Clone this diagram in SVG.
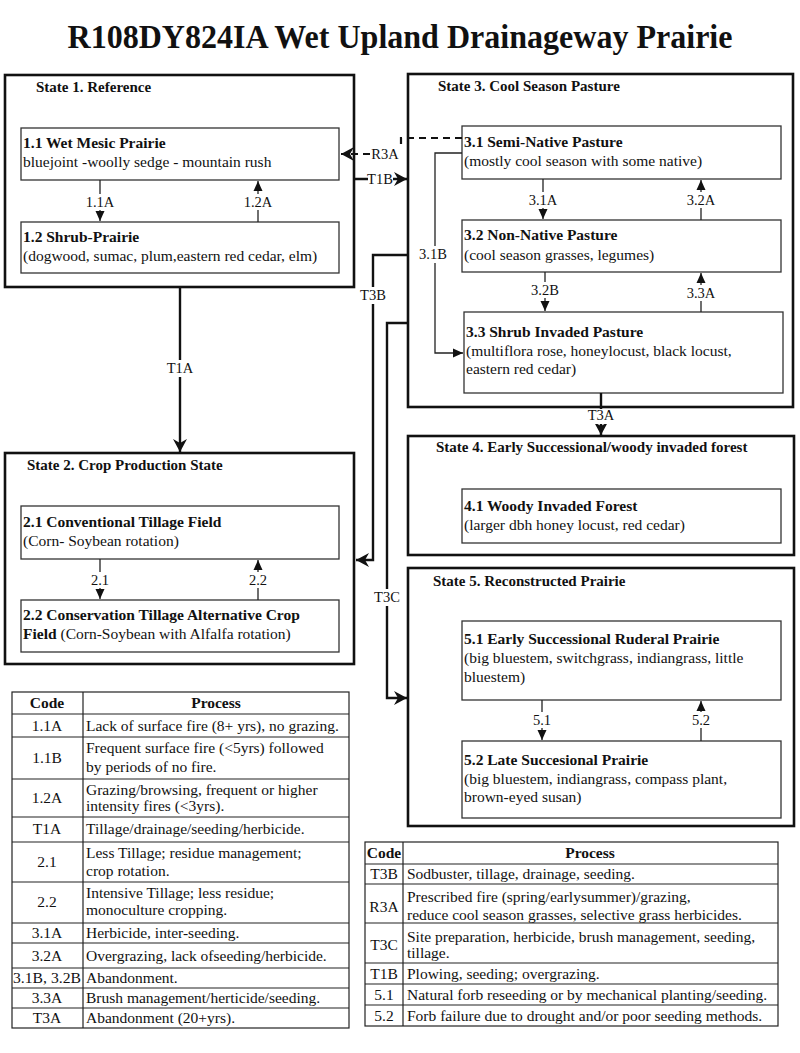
<svg xmlns="http://www.w3.org/2000/svg" width="800" height="1053" viewBox="0 0 800 1053">
<style>
text{font-family:"Liberation Serif","Times New Roman",serif;fill:#111;font-size:15.5px}
.title{font-size:34px;font-weight:bold}
.st{font-size:15px;font-weight:bold}
.b{font-weight:bold}
.c{text-anchor:middle}
.lbl{font-size:14.5px;text-anchor:middle}
.bg{fill:#fff}
.state{fill:none;stroke:#111;stroke-width:2.6}
.box{fill:#fff;stroke:#333;stroke-width:1.3}
.thin{fill:none;stroke:#222;stroke-width:1.3}
.thick{fill:none;stroke:#111;stroke-width:2.4}
.dash{fill:none;stroke:#111;stroke-width:2.2;stroke-dasharray:7 5}
.tb{fill:none;stroke:#222;stroke-width:1.2}
</style>
<defs>
<marker id="sm" markerUnits="userSpaceOnUse" markerWidth="10" markerHeight="10" viewBox="0 0 10 10" refX="10" refY="5" orient="auto">
<path d="M0,0.5 L10,5 L0,9.5 Z" fill="#111"/>
</marker>
<marker id="big" markerUnits="userSpaceOnUse" markerWidth="14" markerHeight="14" viewBox="0 0 14 14" refX="13" refY="7" orient="auto">
<path d="M0,0 L13,7 L0,14 L4,7 Z" fill="#111"/>
</marker>
</defs>
<rect width="800" height="1053" fill="#fff"/>
<text class="title c" x="400" y="48" textLength="665" lengthAdjust="spacingAndGlyphs">R108DY824IA Wet Upland Drainageway Prairie</text>

<g id="state1">
<rect class="state" x="5" y="75" width="349" height="212"/>
<text class="st" x="36" y="92">State 1. Reference</text>
</g>
<g id="n11">
<rect class="box" x="21" y="128" width="318" height="52"/>
<text class="b" x="23" y="148">1.1 Wet Mesic Prairie</text>
<text x="23" y="167">bluejoint -woolly sedge - mountain rush</text>
</g>
<g id="n12">
<rect class="box" x="21" y="222" width="318" height="51"/>
<text class="b" x="23" y="242">1.2 Shrub-Prairie</text>
<text x="23" y="261">(dogwood, sumac, plum,eastern red cedar, elm)</text>
</g>

<g id="state3">
<rect class="state" x="408" y="74" width="385" height="333"/>
<text class="st" x="438" y="91">State 3. Cool Season Pasture</text>
</g>
<g id="n31">
<rect class="box" x="462" y="126" width="319" height="53"/>
<text class="b" x="464" y="147">3.1 Semi-Native Pasture</text>
<text x="464" y="166">(mostly cool season with some native)</text>
</g>
<g id="n32">
<rect class="box" x="462" y="220" width="319" height="52"/>
<text class="b" x="464" y="240">3.2 Non-Native Pasture</text>
<text x="464" y="260">(cool season grasses, legumes)</text>
</g>
<g id="n33">
<rect class="box" x="464" y="312" width="319" height="81"/>
<text class="b" x="466" y="337">3.3 Shrub Invaded Pasture</text>
<text x="466" y="356">(multiflora rose, honeylocust, black locust,</text>
<text x="466" y="374">eastern red cedar)</text>
</g>

<g id="state2">
<rect class="state" x="5" y="453" width="349" height="211"/>
<text class="st" x="27" y="470">State 2. Crop Production State</text>
</g>
<g id="n21">
<rect class="box" x="21" y="506" width="318" height="53"/>
<text class="b" x="23" y="527">2.1 Conventional Tillage Field</text>
<text x="23" y="546">(Corn- Soybean rotation)</text>
</g>
<g id="n22">
<rect class="box" x="21" y="600" width="318" height="52"/>
<text class="b" x="23" y="620">2.2 Conservation Tillage Alternative Crop</text>
<text x="23" y="639"><tspan class="b">Field</tspan> (Corn-Soybean with Alfalfa rotation)</text>
</g>

<g id="state4">
<rect class="state" x="408" y="436" width="386" height="119"/>
<text class="st" x="436" y="452">State 4. Early Successional/woody invaded forest</text>
</g>
<g id="n41">
<rect class="box" x="462" y="489" width="319" height="54"/>
<text class="b" x="464" y="511">4.1 Woody Invaded Forest</text>
<text x="464" y="530">(larger dbh honey locust, red cedar)</text>
</g>

<g id="state5">
<rect class="state" x="408" y="568" width="386" height="258"/>
<text class="st" x="433" y="586">State 5. Reconstructed Prairie</text>
</g>
<g id="n51">
<rect class="box" x="462" y="621" width="319" height="79"/>
<text class="b" x="464" y="644">5.1 Early Successional Ruderal Prairie</text>
<text x="464" y="663">(big bluestem, switchgrass, indiangrass, little</text>
<text x="464" y="682">bluestem)</text>
</g>
<g id="n52">
<rect class="box" x="462" y="741" width="319" height="77"/>
<text class="b" x="464" y="765">5.2 Late Succesional Prairie</text>
<text x="464" y="784">(big bluestem, indiangrass, compass plant,</text>
<text x="464" y="802">brown-eyed susan)</text>
</g>

<g id="connectors">
<line class="thick" x1="180" y1="287" x2="180" y2="452" marker-end="url(#big)"/>
<rect class="bg" x="165" y="360" width="30" height="17"/><text class="lbl" x="180" y="373">T1A</text>
<line class="thick" x1="354" y1="179" x2="407" y2="179" marker-end="url(#big)"/>
<rect class="bg" x="368" y="171" width="25" height="16"/><text class="lbl" x="380" y="184">T1B</text>
<path class="dash" d="M462,138 H401 V148" />
<path class="dash" d="M370,154 H341" marker-end="url(#big)"/>
<text class="lbl" x="385" y="159">R3A</text>
<path class="thick" d="M408,255 H373 V560 H356" marker-end="url(#big)"/>
<rect class="bg" x="359" y="287" width="28" height="17"/><text class="lbl" x="373" y="300">T3B</text>
<path class="thick" d="M408,323 H387 V698 H407" marker-end="url(#big)"/>
<rect class="bg" x="373" y="589" width="28" height="17"/><text class="lbl" x="387" y="602">T3C</text>
<line class="thick" x1="601" y1="393" x2="601" y2="435" marker-end="url(#big)"/>
<rect class="bg" x="587" y="409" width="28" height="15"/><text class="lbl" x="601" y="420">T3A</text>
<path class="thin" d="M462,153 H435 V353 H463" marker-end="url(#sm)"/>
<rect class="bg" x="418" y="246" width="30" height="17"/><text class="lbl" x="433" y="259">3.1B</text>
<line class="thin" x1="100" y1="180" x2="100" y2="221" marker-end="url(#sm)"/>
<rect class="bg" x="85" y="194" width="30" height="16"/><text class="lbl" x="100" y="207">1.1A</text>
<line class="thin" x1="258" y1="222" x2="258" y2="181" marker-end="url(#sm)"/>
<rect class="bg" x="243" y="194" width="30" height="16"/><text class="lbl" x="258" y="207">1.2A</text>
<line class="thin" x1="100" y1="559" x2="100" y2="599" marker-end="url(#sm)"/>
<rect class="bg" x="89" y="572" width="22" height="16"/><text class="lbl" x="100" y="585">2.1</text>
<line class="thin" x1="258" y1="600" x2="258" y2="560" marker-end="url(#sm)"/>
<rect class="bg" x="247" y="572" width="22" height="16"/><text class="lbl" x="258" y="585">2.2</text>
<line class="thin" x1="543" y1="179" x2="543" y2="219" marker-end="url(#sm)"/>
<rect class="bg" x="528" y="192" width="30" height="16"/><text class="lbl" x="543" y="205">3.1A</text>
<line class="thin" x1="701" y1="220" x2="701" y2="180" marker-end="url(#sm)"/>
<rect class="bg" x="686" y="192" width="30" height="16"/><text class="lbl" x="701" y="205">3.2A</text>
<line class="thin" x1="545" y1="272" x2="545" y2="311" marker-end="url(#sm)"/>
<rect class="bg" x="530" y="282" width="30" height="16"/><text class="lbl" x="545" y="295">3.2B</text>
<line class="thin" x1="701" y1="312" x2="701" y2="273" marker-end="url(#sm)"/>
<rect class="bg" x="686" y="285" width="30" height="16"/><text class="lbl" x="701" y="298">3.3A</text>
<line class="thin" x1="542" y1="700" x2="542" y2="740" marker-end="url(#sm)"/>
<rect class="bg" x="531" y="712" width="22" height="16"/><text class="lbl" x="542" y="725">5.1</text>
<line class="thin" x1="701" y1="741" x2="701" y2="701" marker-end="url(#sm)"/>
<rect class="bg" x="690" y="712" width="22" height="16"/><text class="lbl" x="701" y="725">5.2</text>
</g>

<g id="table1">
<rect class="tb" x="12" y="692" width="337" height="336"/>
<line class="tb" x1="83" y1="692" x2="83" y2="1028"/>
<path class="tb" d="M12,714H349M12,737H349M12,779H349M12,817H349M12,842H349M12,882H349M12,923H349M12,943H349M12,968H349M12,988H349M12,1008H349"/>
<text class="b c" x="47" y="708">Code</text>
<text class="b c" x="216" y="708">Process</text>
<text class="c" x="47" y="731">1.1A</text><text x="86" y="731">Lack of surface fire (8+ yrs), no grazing.</text>
<text class="c" x="47" y="763">1.1B</text><text x="86" y="753">Frequent surface fire (&lt;5yrs) followed</text><text x="86" y="772">by periods of no fire.</text>
<text class="c" x="47" y="803">1.2A</text><text x="86" y="795">Grazing/browsing, frequent or higher</text><text x="86" y="811">intensity fires (&lt;3yrs).</text>
<text class="c" x="47" y="834">T1A</text><text x="86" y="834">Tillage/drainage/seeding/herbicide.</text>
<text class="c" x="47" y="867">2.1</text><text x="86" y="858">Less Tillage; residue management;</text><text x="86" y="876">crop rotation.</text>
<text class="c" x="47" y="907">2.2</text><text x="86" y="898">Intensive Tillage; less residue;</text><text x="86" y="915">monoculture cropping.</text>
<text class="c" x="47" y="938">3.1A</text><text x="86" y="938">Herbicide, inter-seeding.</text>
<text class="c" x="47" y="961">3.2A</text><text x="86" y="961">Overgrazing, lack ofseeding/herbicide.</text>
<text class="c" x="47" y="983" textLength="68" lengthAdjust="spacingAndGlyphs">3.1B, 3.2B</text><text x="86" y="983">Abandonment.</text>
<text class="c" x="47" y="1003">3.3A</text><text x="86" y="1003">Brush management/herticide/seeding.</text>
<text class="c" x="47" y="1023">T3A</text><text x="86" y="1023">Abandonment (20+yrs).</text>
</g>

<g id="table2">
<rect class="tb" x="365" y="842" width="413" height="184"/>
<line class="tb" x1="403" y1="842" x2="403" y2="1026"/>
<path class="tb" d="M365,864H778M365,884H778M365,923H778M365,963H778M365,984H778M365,1005H778"/>
<text class="b c" x="384" y="858">Code</text>
<text class="b c" x="590" y="858">Process</text>
<text class="c" x="384" y="879">T3B</text><text x="407" y="879">Sodbuster, tillage, drainage, seeding.</text>
<text class="c" x="384" y="912">R3A</text><text x="407" y="902">Prescribed fire (spring/earlysummer)/grazing,</text><text x="407" y="920">reduce cool season grasses, selective grass herbicides.</text>
<text class="c" x="384" y="950">T3C</text><text x="407" y="942">Site preparation, herbicide, brush management, seeding,</text><text x="407" y="958">tillage.</text>
<text class="c" x="384" y="979">T1B</text><text x="407" y="979">Plowing, seeding; overgrazing.</text>
<text class="c" x="384" y="1000">5.1</text><text x="407" y="1000">Natural forb reseeding or by mechanical planting/seeding.</text>
<text class="c" x="384" y="1021">5.2</text><text x="407" y="1021">Forb failure due to drought and/or poor seeding methods.</text>
</g>
</svg>
